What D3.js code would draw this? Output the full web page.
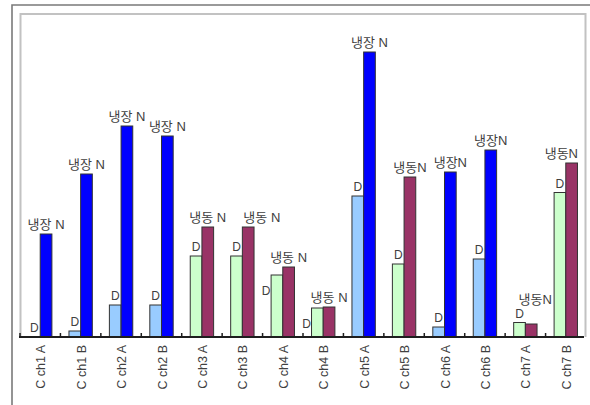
<!DOCTYPE html>
<html>
<head>
<meta charset="utf-8">
<script src="https://cdn.jsdelivr.net/npm/d3@7/dist/d3.min.js"></script>
<style>
  html, body { margin: 0; padding: 0; background: #fff; }
  svg { display: block; }
  text { font-family: "Liberation Sans", "Noto Sans CJK KR", sans-serif; fill: #404040; }
</style>
</head>
<body>
<svg id="chart" width="590" height="405"></svg>
<script>
// Channel categories along the x axis
const categories = ["C ch1 A", "C ch1 B", "C ch2 A", "C ch2 B", "C ch3 A", "C ch3 B", "C ch4 A",
                    "C ch4 B", "C ch5 A", "C ch5 B", "C ch6 A", "C ch6 B", "C ch7 A", "C ch7 B"];
// Storage type per channel: 냉장 (chilled) or 냉동 (frozen)
const storage = ["냉장", "냉장", "냉장", "냉장", "냉동", "냉동", "냉동",
                 "냉동", "냉장", "냉동", "냉장", "냉장", "냉동", "냉동"];
// Day (D) and night (N) values
const dayValues   = [0, 6, 32, 32, 81, 81, 62, 29, 141, 73, 10, 78, 14.5, 144.5];
const nightValues = [103, 163, 211, 201, 110, 110, 70, 30, 285, 160, 165, 187, 13, 174];
// Labels printed over the bars
const dayLabels   = categories.map(() => "D");
const nightLabels = ["냉장 N", "냉장 N", "냉장 N", "냉장 N", "냉동 N", "냉동 N", "냉동 N",
                     "냉동 N", "냉장 N", "냉동N", "냉장N", "냉장N", "냉동N", "냉동N"];

const colors = {
  "냉장": { D: "#99ccff", N: "#0000ff" },
  "냉동": { D: "#ccffcc", N: "#993366" }
};

const rows = categories.map((c, i) => ({
  cat: c, type: storage[i], D: dayValues[i], N: nightValues[i],
  dLabel: dayLabels[i], nLabel: nightLabels[i]
}));

const svg = d3.select("#chart");
const plot = { left: 20, right: 586, top: 14, bottom: 337 };

const x = d3.scaleBand().domain(categories).range([plot.left, plot.right]).paddingInner(0).paddingOuter(0);
const xSub = d3.scaleBand().domain(["D", "N"]).range([0, x.bandwidth()]).paddingInner(0).paddingOuter(0.73);
const y = d3.scaleLinear().domain([0, 323]).range([plot.bottom, plot.top]);

// Outer frame
svg.append("path")
  .attr("d", `M12,405 V5 H590`)
  .attr("fill", "none").attr("stroke", "#7a7a7a").attr("stroke-width", 1.6);

// Plot area frame
svg.append("path")
  .attr("d", `M${plot.left + 0.5},${plot.bottom} V${plot.top} H${plot.right - 0.5} V${plot.bottom}`)
  .attr("fill", "none").attr("stroke", "#c2c2c2").attr("stroke-width", 2);

// Bars
const groups = svg.append("g").selectAll("g").data(rows).join("g")
  .attr("transform", d => `translate(${x(d.cat)},0)`);

groups.selectAll("rect").data(d => ["D", "N"].map(k => ({ k, v: d[k], type: d.type }))).join("rect")
  .attr("x", d => xSub(d.k))
  .attr("y", d => y(d.v))
  .attr("width", xSub.bandwidth())
  .attr("height", d => y(0) - y(d.v))
  .attr("fill", d => colors[d.type][d.k])
  .attr("stroke", "#333")
  .attr("stroke-width", 1);

// Category axis with tick marks at band boundaries
const axis = svg.append("g");
axis.append("line")
  .attr("x1", plot.left - 1).attr("x2", plot.right - 2)
  .attr("y1", plot.bottom).attr("y2", plot.bottom)
  .attr("stroke", "#1e1e1e").attr("stroke-width", 2);
axis.selectAll("line.tick").data(categories).join("line")
  .attr("class", "tick")
  .attr("x1", d => x(d)).attr("x2", d => x(d))
  .attr("y1", plot.bottom).attr("y2", plot.bottom - 4)
  .attr("stroke", "#1e1e1e").attr("stroke-width", 1.5);

axis.selectAll("text").data(categories).join("text")
  .attr("transform", d => `translate(${x(d) + x.bandwidth() / 2 + 5},${plot.bottom + 8}) rotate(-90)`)
  .attr("text-anchor", "end")
  .style("font-size", "12.5px")
  .text(d => d);

// Value labels
const labels = svg.append("g");
const boxesOverlap = (a, b) =>
  a.x < b.x + b.width && b.x < a.x + a.width && a.y < b.y + b.height && b.y < a.y + a.height;
let prevN = null;
rows.forEach(d => {
  const x0 = x(d.cat);
  const dx = x0 + xSub("D") + xSub.bandwidth() / 2;
  const nx = x0 + xSub("N") + xSub.bandwidth() / 2;
  const dText = labels.append("text")
    .attr("x", dx).attr("y", y(d.D) - 5)
    .attr("text-anchor", "middle").style("font-size", "12px").text(d.dLabel);
  const nText = labels.append("text")
    .attr("x", nx).attr("y", y(d.N) - 5)
    .attr("text-anchor", "middle").style("font-size", "13px").text(d.nLabel);

  // Keep a night label clear of the previous one on the same row, and inside the plot area
  const nb = nText.node().getBBox();
  if (prevN && Math.abs(+nText.attr("y") - prevN.base) < 8 && nb.x < prevN.right + 6) {
    nText.attr("text-anchor", "start").attr("x", x0 + xSub("N") + 1);
  }
  if (nText.node().getBBox().x + nText.node().getBBox().width > plot.right - 8) {
    nText.attr("text-anchor", "end").attr("x", plot.right - 8);
  }

  // Resolve a day label colliding with its night label
  const a = dText.node().getBBox(), b = nText.node().getBBox();
  if (boxesOverlap(a, b)) {
    if (d.D >= d.N) {
      nText.attr("y", y(d.D) - 5 - 14).attr("x", +nText.attr("x") + 4);
    } else {
      dText.attr("x", x0 + xSub("D") - 5).attr("y", y(d.D) + 20);
    }
  }
  const fb = nText.node().getBBox();
  prevN = { base: +nText.attr("y"), right: fb.x + fb.width };
});
</script>
</body>
</html>
